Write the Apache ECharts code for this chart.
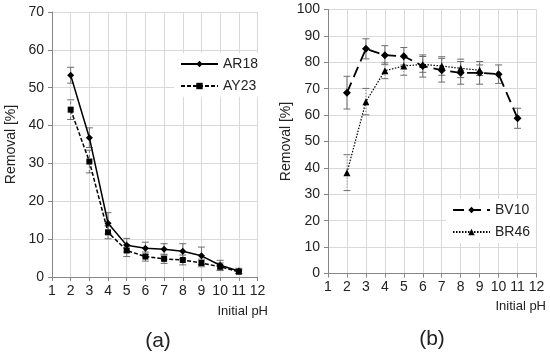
<!DOCTYPE html>
<html><head><meta charset="utf-8">
<script src="https://cdn.jsdelivr.net/npm/echarts@6/dist/echarts.min.js"></script>
<style>html,body{margin:0;padding:0;background:#fff}#c{width:550px;height:357px}</style>
</head><body><div id="c"></div>
<script>
const xTicks = [1,2,3,4,5,6,7,8,9,10,11,12];
const pH = [2,3,4,5,6,7,8,9,10,11];
const ar18 = [53.3, 36.8, 14.2, 8.4, 7.6, 7.3, 6.8, 5.6, 3.1, 1.6];
const ar18Err = [2.1, 2.6, 2.8, 1.8, 1.6, 1.5, 2.0, 2.3, 1.3, 0.7];
const ay23 = [44.2, 30.5, 11.8, 7.0, 5.4, 4.8, 4.5, 3.7, 2.7, 1.4];
const ay23Err = [2.6, 3.0, 1.7, 1.6, 1.2, 1.2, 1.3, 1.0, 1.0, 0.5];
const bv10 = [68.5, 85.1, 82.7, 82.3, 78.6, 77.0, 76.0, 76.0, 75.5, 58.8];
const bv10Err = [6.2, 3.8, 3.6, 3.3, 4.2, 4.5, 4.3, 4.3, 3.5, 3.8];
const pHb = [2,3,4,5,6,7,8,9];
const br46 = [38.2, 65.1, 76.8, 78.6, 79.2, 78.6, 77.7, 77.0];
const br46Err = [6.8, 5.0, 3.0, 3.5, 3.0, 3.5, 3.5, 2.0];

const FONT = '"Liberation Sans", Arial, sans-serif';
const chart = echarts.init(document.getElementById('c'));

function pts(xs, ys){ return xs.map((x,i)=>[x, ys[i]]); }
function errData(xs, ys, es){ return xs.map((x,i)=>[x, ys[i]-es[i], ys[i]+es[i]]); }
function errSeries(idx, data, dash){
  return {
    type:'custom', xAxisIndex:idx, yAxisIndex:idx, data:data, z:1, silent:true,
    encode:{x:0, y:[1,2]},
    renderItem:function(params, api){
      const x = api.value(0);
      const lo = api.coord([x, api.value(1)]);
      const hi = api.coord([x, api.value(2)]);
      const w = 3.5;
      const st = {stroke:'#6e6e6e', lineWidth:1, lineDash:dash};
      return {type:'group', children:[
        {type:'line', shape:{x1:lo[0],y1:lo[1],x2:hi[0],y2:hi[1]}, style:st},
        {type:'line', shape:{x1:lo[0]-w,y1:lo[1],x2:lo[0]+w,y2:lo[1]}, style:{stroke:'#6e6e6e',lineWidth:1}},
        {type:'line', shape:{x1:hi[0]-w,y1:hi[1],x2:hi[0]+w,y2:hi[1]}, style:{stroke:'#6e6e6e',lineWidth:1}}
      ]};
    }
  };
}
function xAx(idx){
  return {type:'value', gridIndex:idx, min:xTicks[0], max:xTicks[xTicks.length-1], interval:1,
    axisLine:{show:true, onZero:false, lineStyle:{color:'#868686'}},
    axisTick:{show:true, length:4, lineStyle:{color:'#868686'}},
    axisLabel:{color:'#222', fontSize:14, fontFamily:FONT, margin:7},
    splitLine:{show:true, lineStyle:{color:'#d9d9d9'}}};
}
function yAx(idx, max){
  return {type:'value', gridIndex:idx, min:0, max:max, interval:10,
    name:'Removal [%]', nameLocation:'middle', nameGap:34,
    nameTextStyle:{color:'#222', fontSize:14, fontFamily:FONT},
    axisLine:{show:true, lineStyle:{color:'#868686'}},
    axisTick:{show:true, length:4, lineStyle:{color:'#868686'}},
    axisLabel:{color:'#222', fontSize:14, fontFamily:FONT, margin:8},
    splitLine:{show:true, lineStyle:{color:'#d9d9d9'}}};
}

chart.setOption({
  animation:false,
  backgroundColor:'#fff',
  grid:[
    {left:52, top:12, width:205.5, height:265},
    {left:328, top:9.5, width:208.5, height:264}
  ],
  xAxis:[xAx(0), xAx(1)],
  yAxis:[yAx(0,70), yAx(1,100)],
  legend:[
    {left:174, top:53, orient:'vertical', itemWidth:37, itemHeight:8, itemGap:8, padding:[4,6,4,6],
     backgroundColor:'#fff', data:['AR18','AY23'],
     textStyle:{color:'#222', fontSize:14, fontFamily:FONT}},
    {left:446, top:199, orient:'vertical', itemWidth:37, itemHeight:8, itemGap:8, padding:[4,6,4,6],
     backgroundColor:'#fff', data:['BV10','BR46'],
     textStyle:{color:'#222', fontSize:14, fontFamily:FONT}}
  ],
  title:[
    {text:'(a)', left:153, top:326, textAlign:'center', textStyle:{fontSize:21, fontWeight:'normal', color:'#222', fontFamily:FONT}},
    {text:'(b)', left:427, top:324, textAlign:'center', textStyle:{fontSize:21, fontWeight:'normal', color:'#222', fontFamily:FONT}}
  ],
  graphic:[
    {type:'text', right:282, top:305, style:{text:'Initial pH', fill:'#222', font:'13px '+FONT}},
    {type:'text', right:4, top:300, style:{text:'Initial pH', fill:'#222', font:'13px '+FONT}}
  ],
  series:[
    errSeries(0, errData(pH, ar18, ar18Err), null),
    errSeries(0, errData(pH, ay23, ay23Err), [3,2]),
    errSeries(1, errData(pH, bv10, bv10Err), null),
    errSeries(1, errData(pHb, br46, br46Err), [1,2]),
    {name:'AR18', type:'line', xAxisIndex:0, yAxisIndex:0, data:pts(pH, ar18), z:3,
     symbol:'diamond', symbolSize:7, color:'#000',
     lineStyle:{color:'#000', width:1.5, type:'solid'}, itemStyle:{color:'#000'}},
    {name:'AY23', type:'line', xAxisIndex:0, yAxisIndex:0, data:pts(pH, ay23), z:3,
     symbol:'rect', symbolSize:6, color:'#000',
     lineStyle:{color:'#000', width:1.5, type:[4,2]}, itemStyle:{color:'#000'}},
    {name:'BV10', type:'line', xAxisIndex:1, yAxisIndex:1, data:pts(pH, bv10), z:3,
     symbol:'diamond', symbolSize:8, color:'#000',
     lineStyle:{color:'#000', width:1.8, type:[11,6]}, itemStyle:{color:'#000'}},
    {name:'BR46', type:'line', xAxisIndex:1, yAxisIndex:1, data:pts(pHb, br46), z:3,
     symbol:'triangle', symbolSize:7, color:'#000',
     lineStyle:{color:'#000', width:1.2, type:[1.5,1.5]}, itemStyle:{color:'#000'}}
  ]
});
</script></body></html>
